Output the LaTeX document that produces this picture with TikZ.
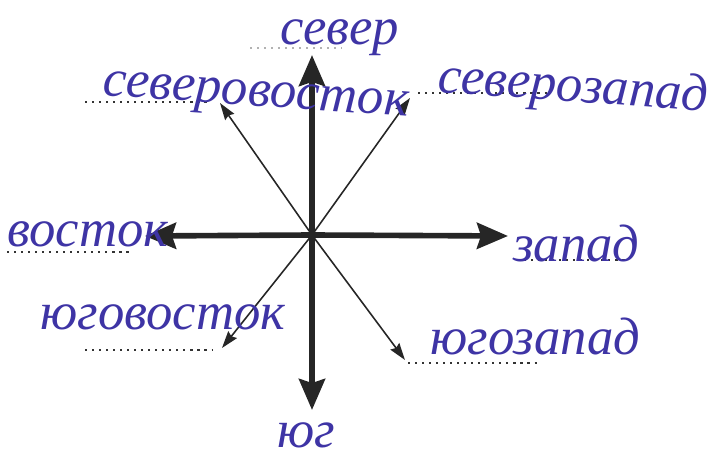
\documentclass[tikz,border=0pt]{standalone}
\usepackage{fontspec}
\setmainfont{Liberation Serif}
\usetikzlibrary{arrows.meta}

\definecolor{inkblue}{RGB}{62,52,165}

\begin{document}
\begin{tikzpicture}[
    x=0.02cm, y=-0.02cm,
    hand/.style={font=\fontsize{30}{32}\selectfont\itshape, text=inkblue, inner sep=0pt, anchor=base west},
    main/.style={draw=black!85, line width=3.2pt, -{Stealth[length=0.62cm, width=0.52cm, inset=0.08cm]}},
    side/.style={draw=black!85, line width=0.9pt, -{Stealth[length=0.34cm, width=0.22cm, inset=0.04cm]}},
    blank/.style={draw=black!80, line width=1.6pt, dash pattern=on 1.2pt off 2.8pt},
]
    \useasboundingbox (0,0) rectangle (711,462);

    % Centre and arrow tips
    \coordinate (centre) at (312,235);
    \coordinate (n) at (312,55);
    \coordinate (s) at (312,410);
    \coordinate (w) at (145,236);
    \coordinate (e) at (508,236);
    \coordinate (nw) at (220,103);
    \coordinate (ne) at (410,98);
    \coordinate (sw) at (222,348);
    \coordinate (se) at (405,360);

    % Main directions
    \draw[main] (centre) -- (n);
    \draw[main] (centre) -- (s);
    \draw[main] (centre) -- (w);
    \draw[main] (centre) -- (e);

    % In-between directions
    \draw[side] (centre) -- (nw);
    \draw[side] (centre) -- (ne);
    \draw[side] (centre) -- (sw);
    \draw[side] (centre) -- (se);

    % Answer lines
    \draw[blank, draw=black!30] (250,48) -- (342,48);
    \draw[blank] (85,102) -- (211,102);
    \draw[blank] (418,93) -- (547,93);
    \draw[blank] (7,252) -- (133,252);
    \draw[blank] (517,260) -- (628,260);
    \draw[blank] (85,350) -- (213,350);
    \draw[blank] (408,363) -- (540,363);

    % Written answers
    \node[hand] (north) at (280,45) {север};
    \node[hand, rotate=-4] (northeast) at (102,95) {северовосток};
    \node[hand, rotate=-4] (northwest) at (437,92) {северозапад};
    \node[hand] (east) at (7,247) {восток};
    \node[hand] (west) at (513,262) {запад};
    \node[hand] (southeast) at (40,330) {юговосток};
    \node[hand] (southwest) at (430,355) {югозапад};
    \node[hand] (south) at (277,448) {юг};
\end{tikzpicture}
\end{document}
